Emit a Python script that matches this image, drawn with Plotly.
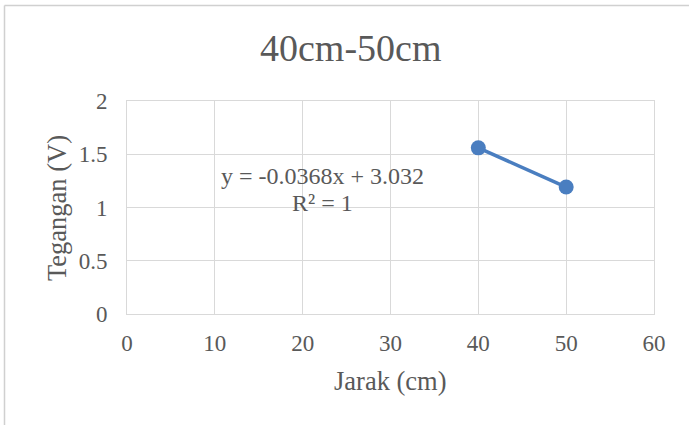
import plotly.graph_objects as go

# Measured distance (cm) and voltage (V)
jarak = [40, 50]
tegangan = [1.56, 1.192]

x_ticks = [0, 10, 20, 30, 40, 50, 60]
y_ticks = [0, 0.5, 1, 1.5, 2]
y_tick_text = ["0", "0.5", "1", "1.5", "2"]

W, H = 689, 425
L, R, T, B = 127, 35, 101, 111
plot_w = W - L - R
plot_h = H - T - B

grey = "#595959"
grid = "#D9D9D9"
font_family = "Liberation Serif, Times New Roman, serif"


def px_x(px):
    return (px - L) / plot_w


def px_y(py):
    return 1 - (py - T) / plot_h


fig = go.Figure()
fig.add_trace(go.Scatter(
    x=jarak, y=tegangan,
    mode="lines+markers",
    line=dict(color="#4A7EC0", width=3.5),
    marker=dict(color="#4A7EC0", size=15),
    showlegend=False,
    hoverinfo="skip",
))

fig.update_layout(
    width=W, height=H,
    margin=dict(l=L, r=R, t=T, b=B),
    paper_bgcolor="white",
    plot_bgcolor="white",
    font=dict(family=font_family, color=grey, size=23),
    xaxis=dict(
        range=[0, 60], tickvals=x_ticks,
        showgrid=True, gridcolor=grid, gridwidth=1,
        showline=True, linecolor=grid, linewidth=1, mirror=True,
        zeroline=False, ticks="", ticklen=0,
        ticklabelstandoff=8,
        tickfont=dict(size=23, color=grey),
    ),
    yaxis=dict(
        range=[0, 2], tickvals=y_ticks, ticktext=y_tick_text,
        showgrid=True, gridcolor=grid, gridwidth=1,
        showline=True, linecolor=grid, linewidth=1, mirror=True,
        zeroline=False, ticks="", ticklen=0,
        ticklabelstandoff=14,
        tickfont=dict(size=23, color=grey),
    ),
)

# Chart title
fig.add_annotation(
    x=px_x(351), y=px_y(48), xref="paper", yref="paper",
    text="40cm-50cm", showarrow=False,
    xanchor="center", yanchor="middle",
    font=dict(size=38, color=grey, family=font_family),
)

# Axis titles
fig.add_annotation(
    x=px_x(390), y=px_y(381), xref="paper", yref="paper",
    text="Jarak (cm)", showarrow=False,
    xanchor="center", yanchor="middle",
    font=dict(size=26.5, color=grey, family=font_family),
)
fig.add_annotation(
    x=px_x(57), y=px_y(208), xref="paper", yref="paper",
    text="Tegangan (V)", showarrow=False, textangle=-90,
    xanchor="center", yanchor="middle",
    font=dict(size=26.5, color=grey, family=font_family),
)

# Trendline equation label
fig.add_annotation(
    x=px_x(322.5), y=px_y(176), xref="paper", yref="paper",
    text="y = -0.0368x + 3.032",
    showarrow=False, xanchor="center", yanchor="middle",
    font=dict(size=24, color=grey, family=font_family),
)
fig.add_annotation(
    x=px_x(322.5), y=px_y(203), xref="paper", yref="paper",
    text="R² = 1",
    showarrow=False, xanchor="center", yanchor="middle",
    font=dict(size=24, color=grey, family=font_family),
)

# Outer chart frame (top and left edges)
fx0 = px_x(4.5)
fy_top = px_y(5.5)
fy_bot = px_y(H + 10)
fig.add_shape(type="line", xref="paper", yref="paper",
              x0=fx0, x1=px_x(W + 10), y0=fy_top, y1=fy_top,
              line=dict(color="#D0D0D0", width=1.5))
fig.add_shape(type="line", xref="paper", yref="paper",
              x0=fx0, x1=fx0, y0=fy_top, y1=fy_bot,
              line=dict(color="#D0D0D0", width=1.5))

fig.write_html("out.html")
